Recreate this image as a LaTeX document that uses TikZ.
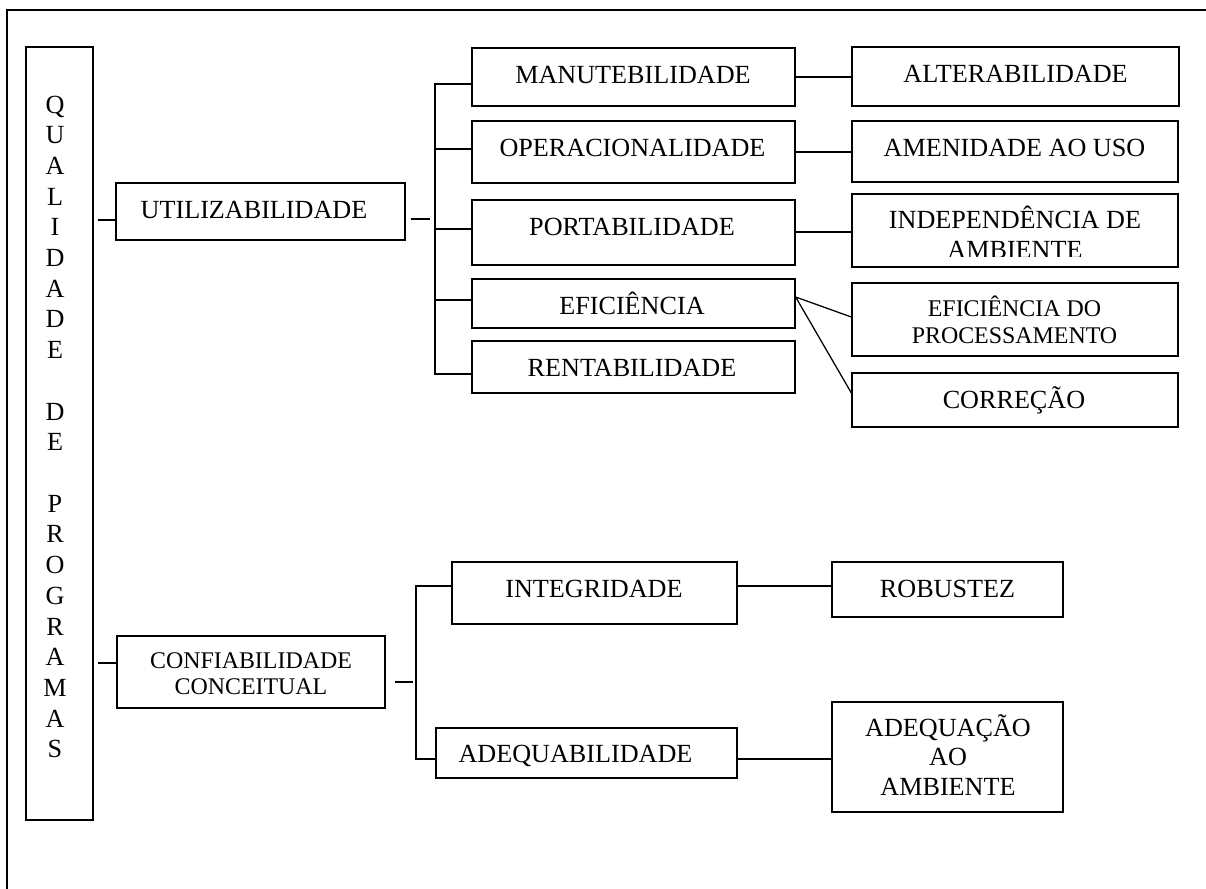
\documentclass[tikz,border=0pt]{standalone}
\usepackage{fontspec}
\setmainfont{Liberation Serif}
\usetikzlibrary{positioning, calc}

\newcommand{\linhas}[1]{\begin{tabular}[t]{@{}c@{}}#1\end{tabular}}

\begin{document}
\begin{tikzpicture}[
    x = 0.025cm, y = -0.025cm,
    caixa/.style = {
      rectangle, draw, line width = 0.9pt, inner sep = 0pt
    },
    tam/.style 2 args = {
      minimum width = #1*0.025cm, minimum height = #2*0.025cm
    },
    rotulo/.style  = {inner sep = 0pt, anchor = base,
      font = \fontsize{18.6}{21.3}\selectfont},
    rotulop/.style = {inner sep = 0pt, anchor = base,
      font = \fontsize{17}{18.9}\selectfont},
    lig/.style = {line width = 0.9pt}
  ]
  \useasboundingbox (0,0) rectangle (1206,889);

  % Moldura
  \draw[line width = 1pt] (7,889) -- (7,10) -- (1206,10);

  % Caixa vertical
  \node[caixa, tam = {67}{773}] (qp) at (59.5,433.5) {};
  \node[rotulo, font = \fontsize{18.6}{21.84}\selectfont] (t-qp) at (55,113)
    {\linhas{Q\\U\\A\\L\\I\\D\\A\\D\\E\\ \\D\\E\\ \\P\\R\\O\\G\\R\\A\\M\\A\\S}};

  % Primeiro nivel
  \node[caixa, tam = {289}{57}] (util) at (260.5,211.5) {};
  \node[rotulo] (t-util) at (254,218) {UTILIZABILIDADE};
  \node[caixa, tam = {268}{72}] (conf) at (251,672) {};
  \node[rotulop] (t-conf) at (251,668) {\linhas{CONFIABILIDADE\\CONCEITUAL}};

  % Segundo nivel (utilizabilidade)
  \node[caixa, tam = {323}{58}] (manu) at (633.5,77) {};
  \node[rotulo] (t-manu) at (633,83) {MANUTEBILIDADE};
  \node[caixa, tam = {323}{62}] (oper) at (633.5,152) {};
  \node[rotulo] (t-oper) at (632.5,156) {OPERACIONALIDADE};
  \node[caixa, tam = {323}{65}] (port) at (633.5,232.5) {};
  \node[rotulo] (t-port) at (632,235) {PORTABILIDADE};
  \node[caixa, tam = {323}{49}] (efic) at (633.5,303.5) {};
  \node[rotulo] (t-efic) at (632,314) {EFICIÊNCIA};
  \node[caixa, tam = {323}{52}] (rent) at (633.5,367) {};
  \node[rotulo] (t-rent) at (632,376) {RENTABILIDADE};

  % Terceiro nivel (utilizabilidade)
  \node[caixa, tam = {327}{59}] (alter) at (1015.5,76.5) {};
  \node[rotulo] (t-alter) at (1015.5,82.7) {ALTERABILIDADE};
  \node[caixa, tam = {326}{61}] (amen) at (1015,151.5) {};
  \node[rotulo] (t-amen) at (1014.5,156) {AMENIDADE AO USO};
  \node[caixa, tam = {326}{73}] (indep) at (1015,230.5) {};
  \begin{scope}
    \clip (852,194) rectangle (1178,256.5);
    \node[rotulo, font = \fontsize{18.6}{21.8}\selectfont] (t-indep) at (1015,228.3)
      {\linhas{INDEPENDÊNCIA DE\\AMBIENTE}};
  \end{scope}
  \node[caixa, tam = {326}{73}] (procs) at (1015,319.5) {};
  \node[rotulop] (t-procs) at (1014.5,316.5) {\linhas{EFICIÊNCIA DO\\PROCESSAMENTO}};
  \node[caixa, tam = {326}{54}] (corr) at (1015,400) {};
  \node[rotulo] (t-corr) at (1014,408) {CORREÇÃO};

  % Confiabilidade conceitual
  \node[caixa, tam = {285}{62}] (integ) at (594.5,593) {};
  \node[rotulo] (t-integ) at (594,597) {INTEGRIDADE};
  \node[caixa, tam = {301}{50}] (adeqb) at (586.5,753) {};
  \node[rotulo] (t-adeqb) at (575.5,762) {ADEQUABILIDADE};
  \node[caixa, tam = {231}{55}] (robu) at (947.5,589.5) {};
  \node[rotulo] (t-robu) at (947.5,597) {ROBUSTEZ};
  \node[caixa, tam = {231}{110}] (adeqa) at (947.5,757) {};
  \node[rotulo] (t-adeqa) at (948,736) {\linhas{ADEQUAÇÃO\\AO\\AMBIENTE}};

  % Pontos das chaves
  \coordinate (b0) at (435,219);
  \coordinate (b1) at (435,84);
  \coordinate (b2) at (435,149);
  \coordinate (b3) at (435,229);
  \coordinate (b4) at (435,300);
  \coordinate (b5) at (435,374);
  \coordinate (c0) at (416,682);
  \coordinate (c1) at (416,586);
  \coordinate (c2) at (416,759);

  % Ligacoes
  \draw[lig, shorten < = 0.1cm] (qp.east |- 0,220) -- (util.west |- 0,220);
  \draw[lig, shorten < = 0.1cm] (qp.east |- 0,663) -- (conf.west |- 0,663);
  \draw[lig, shorten < = 0.125cm, shorten > = 0.125cm] (util.east |- b0) -- (b0);
  \draw[lig, shorten < = 0.225cm, shorten > = 0.075cm] (conf.east |- c0) -- (c0);

  \draw[lig] (manu.west |- b1) -- (b1) -- (b5) -- (rent.west |- b5);
  \draw[lig] (b2) -- (oper.west |- b2);
  \draw[lig] (b3) -- (port.west |- b3);
  \draw[lig] (b4) -- (efic.west |- b4);

  \draw[lig] (manu.east) -- (manu.east -| alter.west);
  \draw[lig] (oper.east) -- (oper.east -| amen.west);
  \draw[lig] (port.east |- 0,232) -- (indep.west |- 0,232);
  \draw[lig] (procs.west |- 0,317) -- (efic.east |- 0,297) -- (corr.west |- 0,393);

  \draw[lig] (integ.west |- c1) -- (c1) -- (c2) -- (adeqb.west |- c2);
  \draw[lig] (integ.east |- c1) -- (robu.west |- c1);
  \draw[lig] (adeqb.east |- c2) -- (adeqa.west |- c2);

\end{tikzpicture}
\end{document}
